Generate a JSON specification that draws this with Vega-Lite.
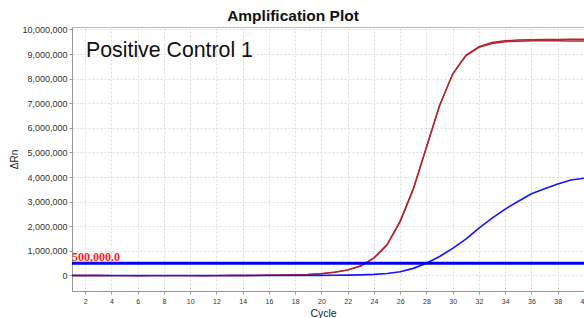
{
  "$schema": "https://vega.github.io/schema/vega-lite/v6.json",
  "width": 512,
  "height": 264,
  "autosize": {"type": "none"},
  "padding": {"left": 72, "top": 27, "right": 0, "bottom": 27},
  "background": "white",
  "title": {
    "text": "Amplification Plot",
    "font": "Liberation Sans",
    "fontSize": 15.5,
    "fontWeight": "bold",
    "color": "#111111",
    "anchor": "middle",
    "dx": -35,
    "dy": 18,
    "baseline": "alphabetic",
    "offset": 6.5
  },
  "config": {
    "view": {"stroke": "#bbbbbb", "strokeWidth": 1},
    "axis": {
      "gridColor": "#dddddd",
      "gridDash": [2, 2],
      "gridWidth": 1,
      "domainColor": "#999999",
      "tickColor": "#999999",
      "labelFont": "Liberation Sans",
      "labelColor": "#333333",
      "labelOverlap": false,
      "titleFont": "Liberation Sans",
      "titleFontWeight": "normal",
      "titleColor": "#222222"
    }
  },
  "datasets": {
    "red": [
      {"cycle":1,"dRn":0,"well":"A"},{"cycle":2,"dRn":0,"well":"A"},{"cycle":3,"dRn":-3000,"well":"A"},{"cycle":4,"dRn":-5000,"well":"A"},{"cycle":5,"dRn":-5000,"well":"A"},{"cycle":6,"dRn":-8000,"well":"A"},{"cycle":7,"dRn":-5000,"well":"A"},{"cycle":8,"dRn":-5000,"well":"A"},{"cycle":9,"dRn":-5000,"well":"A"},{"cycle":10,"dRn":-5000,"well":"A"},
      {"cycle":11,"dRn":-8000,"well":"A"},{"cycle":12,"dRn":-5000,"well":"A"},{"cycle":13,"dRn":-3000,"well":"A"},{"cycle":14,"dRn":0,"well":"A"},{"cycle":15,"dRn":3000,"well":"A"},{"cycle":16,"dRn":8000,"well":"A"},{"cycle":17,"dRn":15000,"well":"A"},{"cycle":18,"dRn":25000,"well":"A"},{"cycle":19,"dRn":40000,"well":"A"},{"cycle":20,"dRn":70000,"well":"A"},
      {"cycle":21,"dRn":130000,"well":"A"},{"cycle":22,"dRn":220000,"well":"A"},{"cycle":23,"dRn":380000,"well":"A"},{"cycle":24,"dRn":700000,"well":"A"},{"cycle":25,"dRn":1240000,"well":"A"},{"cycle":26,"dRn":2190000,"well":"A"},{"cycle":27,"dRn":3500000,"well":"A"},{"cycle":28,"dRn":5200000,"well":"A"},{"cycle":29,"dRn":6900000,"well":"A"},{"cycle":30,"dRn":8200000,"well":"A"},
      {"cycle":31,"dRn":8950000,"well":"A"},{"cycle":32,"dRn":9300000,"well":"A"},{"cycle":33,"dRn":9470000,"well":"A"},{"cycle":34,"dRn":9540000,"well":"A"},{"cycle":35,"dRn":9570000,"well":"A"},{"cycle":36,"dRn":9580000,"well":"A"},{"cycle":37,"dRn":9590000,"well":"A"},{"cycle":38,"dRn":9590000,"well":"A"},{"cycle":39,"dRn":9600000,"well":"A"},{"cycle":40,"dRn":9600000,"well":"A"},
      {"cycle":1,"dRn":2000,"well":"B"},{"cycle":2,"dRn":0,"well":"B"},{"cycle":3,"dRn":-2000,"well":"B"},{"cycle":4,"dRn":-4000,"well":"B"},{"cycle":5,"dRn":-6000,"well":"B"},{"cycle":6,"dRn":-6000,"well":"B"},{"cycle":7,"dRn":-6000,"well":"B"},{"cycle":8,"dRn":-4000,"well":"B"},{"cycle":9,"dRn":-4000,"well":"B"},{"cycle":10,"dRn":-6000,"well":"B"},
      {"cycle":11,"dRn":-6000,"well":"B"},{"cycle":12,"dRn":-4000,"well":"B"},{"cycle":13,"dRn":-2000,"well":"B"},{"cycle":14,"dRn":0,"well":"B"},{"cycle":15,"dRn":5000,"well":"B"},{"cycle":16,"dRn":10000,"well":"B"},{"cycle":17,"dRn":20000,"well":"B"},{"cycle":18,"dRn":30000,"well":"B"},{"cycle":19,"dRn":45000,"well":"B"},{"cycle":20,"dRn":75000,"well":"B"},
      {"cycle":21,"dRn":135000,"well":"B"},{"cycle":22,"dRn":230000,"well":"B"},{"cycle":23,"dRn":395000,"well":"B"},{"cycle":24,"dRn":720000,"well":"B"},{"cycle":25,"dRn":1260000,"well":"B"},{"cycle":26,"dRn":2220000,"well":"B"},{"cycle":27,"dRn":3540000,"well":"B"},{"cycle":28,"dRn":5230000,"well":"B"},{"cycle":29,"dRn":6920000,"well":"B"},{"cycle":30,"dRn":8190000,"well":"B"},
      {"cycle":31,"dRn":8930000,"well":"B"},{"cycle":32,"dRn":9270000,"well":"B"},{"cycle":33,"dRn":9430000,"well":"B"},{"cycle":34,"dRn":9500000,"well":"B"},{"cycle":35,"dRn":9520000,"well":"B"},{"cycle":36,"dRn":9540000,"well":"B"},{"cycle":37,"dRn":9550000,"well":"B"},{"cycle":38,"dRn":9540000,"well":"B"},{"cycle":39,"dRn":9530000,"well":"B"},{"cycle":40,"dRn":9530000,"well":"B"}
    ],
    "blue": [
      {"cycle":1,"dRn":0,"well":"C"},{"cycle":2,"dRn":0,"well":"C"},{"cycle":3,"dRn":0,"well":"C"},{"cycle":4,"dRn":0,"well":"C"},{"cycle":5,"dRn":0,"well":"C"},{"cycle":6,"dRn":0,"well":"C"},{"cycle":7,"dRn":0,"well":"C"},{"cycle":8,"dRn":0,"well":"C"},{"cycle":9,"dRn":0,"well":"C"},{"cycle":10,"dRn":0,"well":"C"},
      {"cycle":11,"dRn":0,"well":"C"},{"cycle":12,"dRn":0,"well":"C"},{"cycle":13,"dRn":0,"well":"C"},{"cycle":14,"dRn":0,"well":"C"},{"cycle":15,"dRn":0,"well":"C"},{"cycle":16,"dRn":0,"well":"C"},{"cycle":17,"dRn":0,"well":"C"},{"cycle":18,"dRn":0,"well":"C"},{"cycle":19,"dRn":2000,"well":"C"},{"cycle":20,"dRn":5000,"well":"C"},
      {"cycle":21,"dRn":10000,"well":"C"},{"cycle":22,"dRn":15000,"well":"C"},{"cycle":23,"dRn":25000,"well":"C"},{"cycle":24,"dRn":45000,"well":"C"},{"cycle":25,"dRn":80000,"well":"C"},{"cycle":26,"dRn":150000,"well":"C"},{"cycle":27,"dRn":290000,"well":"C"},{"cycle":28,"dRn":500000,"well":"C"},{"cycle":29,"dRn":770000,"well":"C"},{"cycle":30,"dRn":1100000,"well":"C"},
      {"cycle":31,"dRn":1480000,"well":"C"},{"cycle":32,"dRn":1930000,"well":"C"},{"cycle":33,"dRn":2330000,"well":"C"},{"cycle":34,"dRn":2700000,"well":"C"},{"cycle":35,"dRn":3020000,"well":"C"},{"cycle":36,"dRn":3320000,"well":"C"},{"cycle":37,"dRn":3530000,"well":"C"},{"cycle":38,"dRn":3720000,"well":"C"},{"cycle":39,"dRn":3880000,"well":"C"},{"cycle":40,"dRn":3950000,"well":"C"}
    ],
    "threshold": [{"cycle": 1, "dRn": 500000, "label": "500,000.0"}]
  },
  "layer": [
    {
      "encoding": {
        "x": {
          "field": "cycle", "type": "quantitative",
          "scale": {"domain": [1, 40], "nice": false, "zero": false},
          "axis": {
            "title": "Cycle",
            "values": [2,4,6,8,10,12,14,16,18,20,22,24,26,28,30,32,34,36,38,40],
            "labelOverlap": false,
            "labelFlush": false,
            "labelFontSize": 7,
            "tickSize": 3,
            "labelPadding": 3,
            "titleFontSize": 10.5,
            "titleX": 251,
            "titleY": 22,
            "titleBaseline": "middle"
          }
        },
        "y": {
          "field": "dRn", "type": "quantitative",
          "scale": {"domain": [-630000, 10100000], "nice": false, "zero": false},
          "axis": {
            "title": "ΔRn",
            "values": [0,1000000,2000000,3000000,4000000,5000000,6000000,7000000,8000000,9000000,10000000],
            "format": ",d",
            "labelOverlap": false,
            "labelFlush": false,
            "labelFontSize": 9,
            "tickSize": 3,
            "labelPadding": 2,
            "titleFontSize": 10,
            "titleX": -58,
            "titleY": 132,
            "titleAngle": -90,
            "titleAlign": "center",
            "titleBaseline": "middle"
          }
        }
      },
      "layer": [
        {
          "data": {"name": "red"},
          "mark": {"type": "line", "strokeWidth": 1.4, "color": "#b3262e", "clip": true},
          "encoding": {"detail": {"field": "well"}}
        },
        {
          "data": {"name": "blue"},
          "mark": {"type": "line", "strokeWidth": 1.6, "color": "#1414ff", "clip": true},
          "encoding": {"detail": {"field": "well"}}
        },
        {
          "data": {"name": "threshold"},
          "mark": {"type": "rule", "color": "#0000ee", "strokeWidth": 3},
          "encoding": {"x2": {"datum": 40}}
        },
        {
          "data": {"name": "threshold"},
          "mark": {"type": "text", "color": "#ff1a1a", "font": "Liberation Serif", "fontWeight": "bold", "fontSize": 12, "align": "left", "baseline": "alphabetic", "dy": -2},
          "encoding": {"text": {"field": "label"}}
        }
      ]
    },
    {
      "data": {"values": [{"name": "Positive Control 1"}]},
      "mark": {"type": "text", "color": "#111111", "font": "Liberation Sans", "fontSize": 21.3, "align": "left", "baseline": "alphabetic"},
      "encoding": {
        "x": {
          "datum": 2.07, "type": "quantitative",
          "axis": {
            "title": "Cycle",
            "values": [2,4,6,8,10,12,14,16,18,20,22,24,26,28,30,32,34,36,38,40],
            "labelOverlap": false,
            "labelFlush": false,
            "labelFontSize": 7,
            "tickSize": 3,
            "labelPadding": 3,
            "titleFontSize": 10.5,
            "titleX": 251,
            "titleY": 22,
            "titleBaseline": "middle"
          }
        },
        "y": {
          "datum": 8894000, "type": "quantitative",
          "axis": {
            "title": "ΔRn",
            "values": [0,1000000,2000000,3000000,4000000,5000000,6000000,7000000,8000000,9000000,10000000],
            "format": ",d",
            "labelOverlap": false,
            "labelFlush": false,
            "labelFontSize": 9,
            "tickSize": 3,
            "labelPadding": 2,
            "titleFontSize": 10,
            "titleX": -58,
            "titleY": 132,
            "titleAngle": -90,
            "titleAlign": "center",
            "titleBaseline": "middle"
          }
        },
        "text": {"field": "name"}
      }
    }
  ]
}
